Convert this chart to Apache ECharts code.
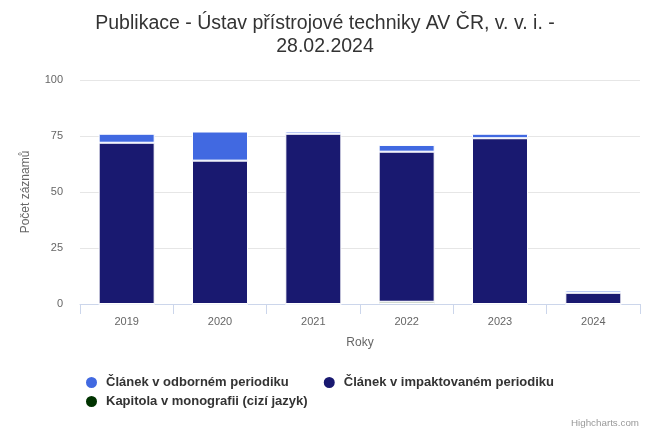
<!DOCTYPE html>
<html>
<head>
<meta charset="utf-8">
<script src="https://cdn.jsdelivr.net/npm/echarts@6/dist/echarts.min.js"></script>
<style>html,body{margin:0;padding:0;background:#fff}#c{width:650px;height:433px}</style>
</head>
<body>
<div id="c"></div>
<script>
const categories = ['2019', '2020', '2021', '2022', '2023', '2024'];
const odborny = [4, 13, 1, 3, 2, 1];
const impakt = [72, 64, 76, 67, 74, 5];
const kapitola = [0, 0, 0, 1, 0, 0];
const yTicks = { min: 0, max: 100, interval: 25 };

const F = '"Liberation Sans", Arial, Helvetica, sans-serif';
const chart = echarts.init(document.getElementById('c'), null, { renderer: 'canvas' });
const barStyle = (c) => ({ color: c, borderColor: '#ffffff', borderWidth: 1 });
const legendText = { fontFamily: F, fontSize: 13, fontWeight: 'bold', color: '#333333', padding: [0, 0, 0, 3] };
chart.setOption({
  animation: false,
  textStyle: { fontFamily: F },
  title: {
    text: 'Publikace - Ústav přístrojové techniky AV ČR, v. v. i. -\n28.02.2024',
    left: 'center', top: 7,
    textStyle: { fontFamily: F, fontSize: 19.5, fontWeight: 'normal', color: '#333333', lineHeight: 23 }
  },
  legend: [
    {
      data: ['Článek v odborném periodiku', 'Článek v impaktovaném periodiku'],
      left: 84, top: 375, orient: 'horizontal', icon: 'circle',
      itemWidth: 13, itemHeight: 13, itemGap: 33, padding: 0,
      textStyle: legendText
    },
    {
      data: ['Kapitola v monografii (cizí jazyk)'],
      left: 84, top: 394, orient: 'horizontal', icon: 'circle',
      itemWidth: 13, itemHeight: 13, padding: 0,
      textStyle: legendText
    }
  ],
  grid: { left: 80, right: 10, top: 80, bottom: 129 },
  xAxis: {
    type: 'category', data: categories,
    name: 'Roky', nameLocation: 'middle', nameGap: 33,
    nameTextStyle: { fontSize: 12, color: '#666666' },
    axisLine: { lineStyle: { color: '#ccd6eb' } },
    axisTick: { show: true, length: 10, lineStyle: { color: '#ccd6eb' } },
    axisLabel: { fontSize: 11, color: '#666666', margin: 12 }
  },
  yAxis: {
    type: 'value', min: yTicks.min, max: yTicks.max, interval: yTicks.interval,
    name: 'Počet záznamů', nameLocation: 'middle', nameGap: 48, nameRotate: 90,
    nameTextStyle: { fontSize: 12, color: '#666666' },
    axisLine: { show: false }, axisTick: { show: false },
    splitLine: { lineStyle: { color: '#e6e6e6' } },
    axisLabel: { fontSize: 11, color: '#666666', margin: 17 }
  },
  series: [
    { name: 'Kapitola v monografii (cizí jazyk)', type: 'bar', stack: 'a', data: kapitola, barWidth: 56, itemStyle: barStyle('#003300') },
    { name: 'Článek v impaktovaném periodiku', type: 'bar', stack: 'a', data: impakt, barWidth: 56, itemStyle: barStyle('#191970') },
    { name: 'Článek v odborném periodiku', type: 'bar', stack: 'a', data: odborny, barWidth: 56, itemStyle: barStyle('#4169e1') }
  ],
  graphic: [
    { type: 'text', right: 11, top: 418, style: { text: 'Highcharts.com', fontFamily: F, fontSize: 9.8, fill: '#999999' } }
  ]
});
</script>
</body>
</html>
